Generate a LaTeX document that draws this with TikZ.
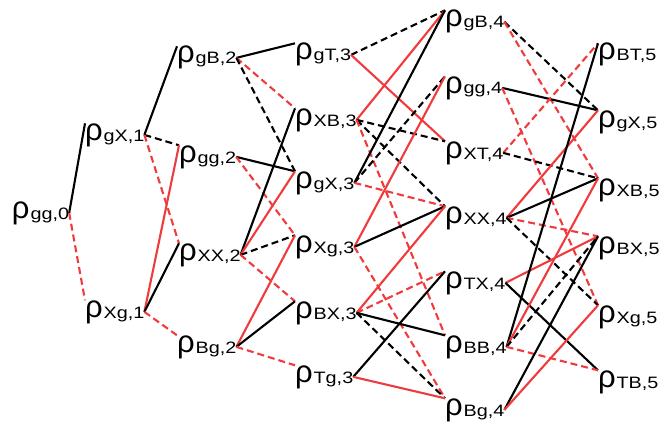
\documentclass[tikz,border=0pt]{standalone}
\usepackage{fontspec}
\setmainfont{Liberation Sans}
\usepackage{graphicx}

\definecolor{lred}{RGB}{240,58,60}

\newcommand{\rlab}[1]{{\fontsize{31}{31}\selectfont ρ}\kern1pt\raisebox{-1pt}{\scalebox{1.2}[1]{\fontsize{16.5}{16.5}\selectfont #1}}}

\tikzset{
  lab/.style={anchor=base west, inner sep=0pt, outer sep=0pt},
  bs/.style={black, line width=2.1pt},
  bd/.style={black, line width=2.1pt, dash pattern=on 7pt off 4pt},
  rs/.style={lred, line width=2.1pt},
  rd/.style={lred, line width=2.1pt, dash pattern=on 7pt off 4pt}
}

\begin{document}
\begin{tikzpicture}[x=1pt,y=-1pt]

	% frame
	\useasboundingbox (0,0) rectangle (660,425);

	% column 0
	\node[lab] (gg0) at (12,218) {\rlab{gg,0}};

	% column 1
	\node[lab] (gX1) at (85,140) {\rlab{gX,1}};
	\node[lab] (Xg1) at (85,317) {\rlab{Xg,1}};

	% column 2
	\node[lab] (gB2) at (177,63) {\rlab{gB,2}};
	\node[lab] (gg2) at (179,162) {\rlab{gg,2}};
	\node[lab] (XX2) at (179,260) {\rlab{XX,2}};
	\node[lab] (Bg2) at (177,352) {\rlab{Bg,2}};

	% column 3
	\node[lab] (gT3) at (295,60) {\rlab{gT,3}};
	\node[lab] (XB3) at (295,125) {\rlab{XB,3}};
	\node[lab] (gX3) at (295,188) {\rlab{gX,3}};
	\node[lab] (Xg3) at (295,252) {\rlab{Xg,3}};
	\node[lab] (BX3) at (295,318) {\rlab{BX,3}};
	\node[lab] (Tg3) at (295,382) {\rlab{Tg,3}};

	% column 4
	\node[lab] (gB4) at (445,27) {\rlab{gB,4}};
	\node[lab] (gg4) at (445,93) {\rlab{gg,4}};
	\node[lab] (XT4) at (445,158) {\rlab{XT,4}};
	\node[lab] (XX4) at (445,223) {\rlab{XX,4}};
	\node[lab] (TX4) at (445,288) {\rlab{TX,4}};
	\node[lab] (BB4) at (445,352) {\rlab{BB,4}};
	\node[lab] (Bg4) at (445,415) {\rlab{Bg,4}};

	% column 5
	\node[lab] (BT5) at (598,60) {\rlab{BT,5}};
	\node[lab] (gX5) at (598,127) {\rlab{gX,5}};
	\node[lab] (XB5) at (598,195) {\rlab{XB,5}};
	\node[lab] (BX5) at (598,253) {\rlab{BX,5}};
	\node[lab] (Xg5) at (598,322) {\rlab{Xg,5}};
	\node[lab] (TB5) at (598,387) {\rlab{TB,5}};

	% 0 -> 1
	\draw[bs] (gg0.east)--(gX1.north west);
	\draw[rd] (gg0.east)--(Xg1.north west);

	% 1 -> 2
	\draw[bs] (gX1.east)--(gB2.north west);
	\draw[bd] (gX1.east)--(gg2.north west);
	\draw[rd] (gX1.east)--(XX2.north west);
	\draw[rs] (Xg1.east)--(gg2.north west);
	\draw[bs] (Xg1.east)--(XX2.north west);
	\draw[rd] (Xg1.east)--(Bg2.north west);

	% 2 -> 3
	\draw[bs] (gB2.east)--(gT3.north west);
	\draw[rd] (gB2.east)--(XB3.north west);
	\draw[bd] (gB2.east)--(gX3.north west);
	\draw[bs] (gg2.east)--(gX3.north west);
	\draw[rd] (gg2.east)--(Xg3.north west);
	\draw[bs] (XX2.east)--(XB3.north west);
	\draw[rs] (XX2.east)--(gX3.north west);
	\draw[bd] (XX2.east)--(Xg3.north west);
	\draw[rd] (XX2.east)--(BX3.north west);
	\draw[rs] (Bg2.east)--(Xg3.north west);
	\draw[bs] (Bg2.east)--(BX3.north west);
	\draw[rd] (Bg2.east)--(Tg3.north west);

	% 3 -> 4
	\draw[bd] (gT3.east)--(gB4.north west);
	\draw[rs] (gT3.east)--(XT4.north west);
	\draw[rs] (XB3.east)--(gB4.north west);
	\draw[bd] (XB3.east)--(XT4.north west);
	\draw[bd] (XB3.east)--(XX4.north west);
	\draw[rd] (XB3.east)--(BB4.north west);
	\draw[bs] (gX3.east)--(gB4.north west);
	\draw[bd] (gX3.east)--(gg4.north west);
	\draw[rd] (gX3.east)--(XX4.north west);
	\draw[rs] (Xg3.east)--(gg4.north west);
	\draw[bs] (Xg3.east)--(XX4.north west);
	\draw[rd] (Xg3.east)--(Bg4.north west);
	\draw[rs] (BX3.east)--(XX4.north west);
	\draw[rd] (BX3.east)--(TX4.north west);
	\draw[bs] (BX3.east)--(BB4.north west);
	\draw[bd] (BX3.east)--(Bg4.north west);
	\draw[bs] (Tg3.east)--(TX4.north west);
	\draw[rs] (Tg3.east)--(Bg4.north west);

	% 4 -> 5
	\draw[bd] (gB4.east)--(gX5.north west);
	\draw[rd] (gB4.east)--(XB5.north west);
	\draw[bs] (gg4.east)--(gX5.north west);
	\draw[rd] (gg4.east)--(Xg5.north west);
	\draw[rd] (XT4.east)--(BT5.north west);
	\draw[bd] (XT4.east)--(XB5.north west);
	\draw[rs] (XX4.east)--(gX5.north west);
	\draw[bs] (XX4.east)--(XB5.north west);
	\draw[rd] (XX4.east)--(BX5.north west);
	\draw[bd] (XX4.east)--(Xg5.north west);
	\draw[rs] (TX4.east)--(BX5.north west);
	\draw[bs] (TX4.east)--(TB5.north west);
	\draw[bs] (BB4.east)--(BT5.north west);
	\draw[rs] (BB4.east)--(XB5.north west);
	\draw[bd] (BB4.east)--(BX5.north west);
	\draw[rd] (BB4.east)--(TB5.north west);
	\draw[bs] (Bg4.east)--(BX5.north west);
	\draw[rs] (Bg4.east)--(Xg5.north west);

\end{tikzpicture}
\end{document}
